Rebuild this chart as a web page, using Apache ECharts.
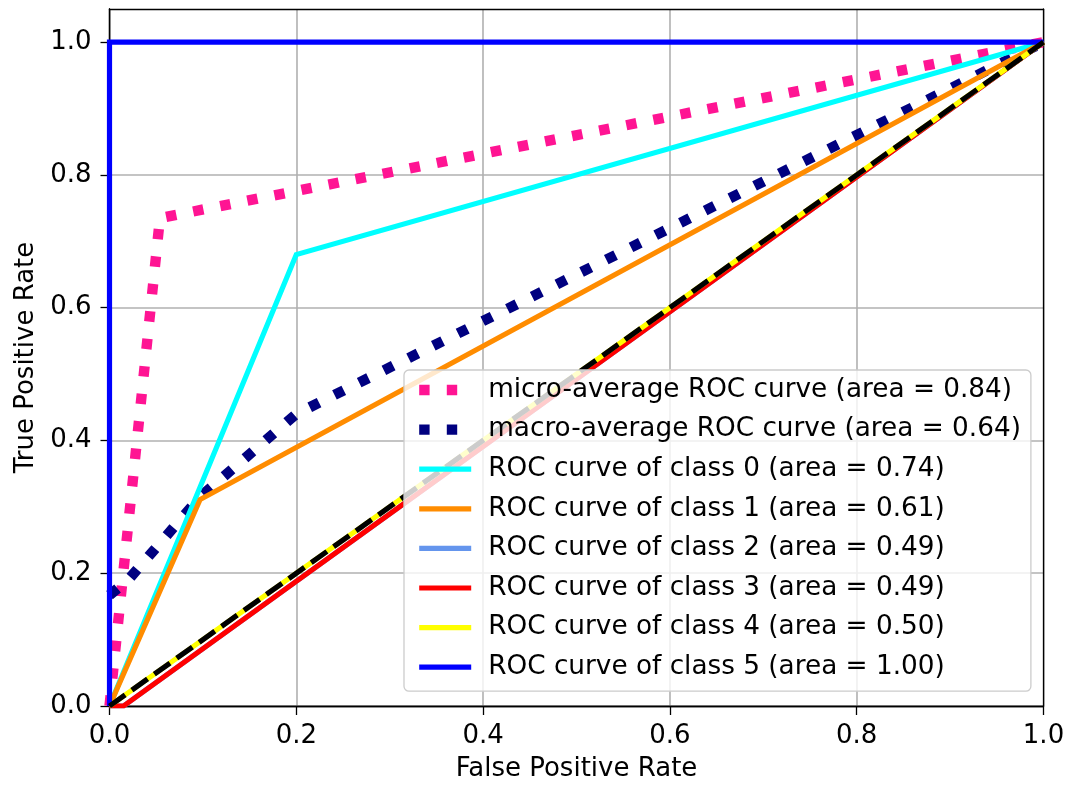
<!DOCTYPE html>
<html><head><meta charset="utf-8">
<script src="https://cdn.jsdelivr.net/npm/echarts@6/dist/echarts.min.js"></script>
<style>html,body{margin:0;padding:0;background:#fff}#c{width:1068px;height:788px}</style>
</head><body><div id="c"></div>
<script>
// ---- data ----
const microFpr = [0, 0.054, 1];
const microTpr = [0, 0.735, 1];
const macroFpr = [0, 0.02, 0.097, 0.2, 1];
const macroTpr = [0.167, 0.19, 0.315, 0.44, 1];
const class0Fpr = [0, 0.2, 1];
const class0Tpr = [0, 0.68, 1];
const class1Fpr = [0, 0.097, 1];
const class1Tpr = [0, 0.311, 1];
const class2Fpr = [0, 0.015, 1];
const class2Tpr = [0, 0, 1];
const class3Fpr = [0, 0.015, 1];
const class3Tpr = [0, 0, 1];
const class4Fpr = [0, 1];
const class4Tpr = [0, 1];
const class5Fpr = [0, 0, 1];
const class5Tpr = [0, 1, 1];
const chanceFpr = [0, 1];
const chanceTpr = [0, 1];
const seriesNames = [
  'micro-average ROC curve (area = 0.84)',
  'macro-average ROC curve (area = 0.64)',
  'ROC curve of class 0 (area = 0.74)',
  'ROC curve of class 1 (area = 0.61)',
  'ROC curve of class 2 (area = 0.49)',
  'ROC curve of class 3 (area = 0.49)',
  'ROC curve of class 4 (area = 0.50)',
  'ROC curve of class 5 (area = 1.00)'
];
const xTicks = [0, 0.2, 0.4, 0.6, 0.8, 1.0];
const yTicks = [0, 0.2, 0.4, 0.6, 0.8, 1.0];
const xLabel = 'False Positive Rate';
const yLabel = 'True Positive Rate';

// ---- styling ----
const FONT = 'DejaVu Sans';
const FS = 26;
const LW = 5.2;
const DOT_LW = 10.4;
const DOTS = [10.4, 17.2];
const DASH = [19.2, 8.3];

function pairs(xs, ys) { return xs.map((x, i) => [x, ys[i]]); }
function mk(name, xs, ys, color, width, type) {
  return {
    type: 'line', name: name, data: pairs(xs, ys), symbol: 'none',
    lineStyle: { color: color, width: width, type: type, cap: 'butt', join: 'miter' },
    itemStyle: { color: color }, animation: false, silent: true, clip: true
  };
}
const series = [
  mk(seriesNames[0], microFpr, microTpr, '#ff1493', DOT_LW, DOTS),
  mk(seriesNames[1], macroFpr, macroTpr, '#000080', DOT_LW, DOTS),
  mk(seriesNames[2], class0Fpr, class0Tpr, '#00ffff', LW, 'solid'),
  mk(seriesNames[3], class1Fpr, class1Tpr, '#ff8c00', LW, 'solid'),
  mk(seriesNames[4], class2Fpr, class2Tpr, '#6495ed', LW, 'solid'),
  mk(seriesNames[5], class3Fpr, class3Tpr, '#ff0000', LW, 'solid'),
  mk(seriesNames[6], class4Fpr, class4Tpr, '#ffff00', LW, 'solid'),
  mk(seriesNames[7], class5Fpr, class5Tpr, '#0000ff', LW, 'solid'),
  mk('chance', chanceFpr, chanceTpr, '#000000', LW, DASH)
];

const fmt = v => {
  const r = Math.round(v * 5);
  return Math.abs(v * 5 - r) < 1e-6 ? v.toFixed(1) : '';
};
const axisLineStyle = { show: true, onZero: false, lineStyle: { color: '#000', width: 1.3 } };
const spineOnly = (pos, max) => ({
  type: 'value', min: 0, max: max, position: pos, z: 3,
  axisLine: axisLineStyle, axisTick: { show: false }, axisLabel: { show: false }, splitLine: { show: false }
});

const chart = echarts.init(document.getElementById('c'), null, { renderer: 'canvas' });
chart.setOption({
  backgroundColor: '#fff',
  animation: false,
  grid: { left: 109.5, right: 24.5, top: 9, bottom: 82, containLabel: false, outerBoundsMode: 'none' },
  legend: {
    orient: 'vertical', left: 404, top: 370,
    padding: [7, 10, 11, 10],
    itemWidth: 52, itemHeight: 26, itemGap: 13.6,
    backgroundColor: 'rgba(255,255,255,0.8)',
    borderColor: '#cccccc', borderWidth: 1.3, borderRadius: 5,
    selectedMode: false, z: 5,
    textStyle: { fontFamily: FONT, fontSize: 26.3, color: '#000', lineHeight: 26, padding: [0, 0, 0, 12] },
    data: seriesNames.map((n, i) => ({
      name: n,
      itemStyle: { color: 'rgba(0,0,0,0)', borderWidth: 0, opacity: 0 },
      lineStyle: { width: i < 2 ? DOT_LW : LW }
    }))
  },
  xAxis: [{
    type: 'value', min: 0, max: 1, interval: 0.2,
    name: xLabel, nameLocation: 'middle', nameGap: 50,
    nameTextStyle: { fontFamily: FONT, fontSize: FS, color: '#000' },
    axisLine: axisLineStyle,
    axisTick: { show: true, length: 9, lineStyle: { color: '#000', width: 1.3 }, customValues: xTicks },
    axisLabel: { fontFamily: FONT, fontSize: FS, color: '#000', margin: 17, formatter: fmt, customValues: xTicks },
    splitLine: { show: true, lineStyle: { color: '#b0b0b0', width: 1.6 } }
  }, spineOnly('top', 1), spineOnly('bottom', 1)],
  yAxis: [{
    type: 'value', min: 0, max: 1.05, interval: 0.2,
    name: yLabel, nameLocation: 'middle', nameGap: 68,
    nameTextStyle: { fontFamily: FONT, fontSize: FS, color: '#000' },
    axisLine: axisLineStyle,
    axisTick: { show: true, length: 9, lineStyle: { color: '#000', width: 1.3 }, customValues: yTicks },
    axisLabel: { fontFamily: FONT, fontSize: FS, color: '#000', margin: 18, formatter: fmt, customValues: yTicks },
    splitLine: { show: true, lineStyle: { color: '#b0b0b0', width: 1.6 } }
  }, spineOnly('right', 1.05), spineOnly('left', 1.05)],
  series: series
});
</script></body></html>
